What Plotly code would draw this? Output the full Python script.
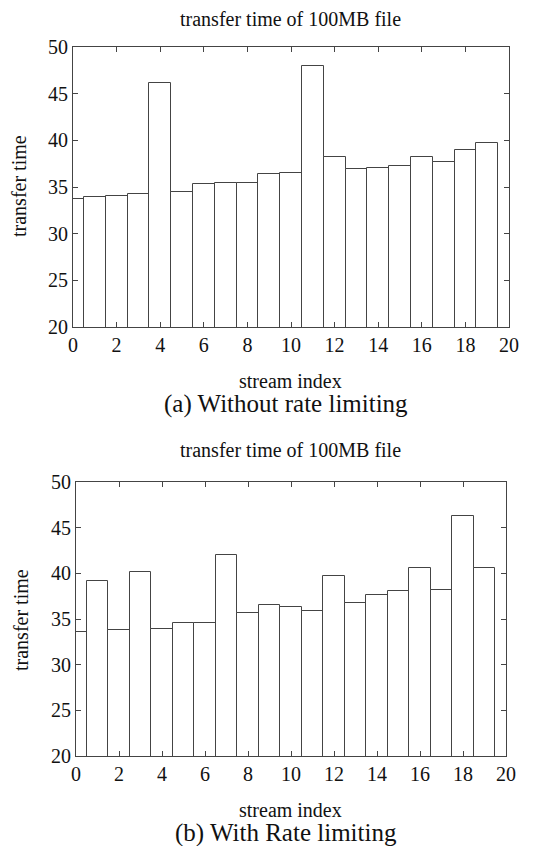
import plotly.graph_objects as go

stream_index = list(range(20))
time_no_limit = [33.75, 33.9, 34.07, 34.2, 46.1, 34.5, 35.3, 35.4, 35.46, 36.36,
                 36.46, 48.0, 38.25, 36.96, 37.07, 37.29, 38.25, 37.64, 38.93, 39.68]
time_limit = [33.54, 39.2, 33.82, 40.15, 33.93, 34.57, 34.6, 42.0, 35.7, 36.57,
              36.28, 35.9, 39.7, 36.8, 37.66, 38.1, 40.55, 38.2, 46.3, 40.58]
x_ticks = list(range(0, 21, 2))
y_ticks = list(range(20, 51, 5))

# page body has an 8px margin: the figure starts at (8, 8) in the window
OFF = 8
W, H = 553, 846
FONT = "Liberation Serif"
LINE = "#444444"

def px_x(p):
    return (p - OFF) / W

def px_y(p):
    return 1 - (p - OFF) / H

fig = go.Figure()
fig.add_trace(go.Bar(x=stream_index, y=time_no_limit, width=1,
                     marker=dict(color="white", line=dict(color=LINE, width=1)),
                     xaxis="x", yaxis="y", showlegend=False))
fig.add_trace(go.Bar(x=stream_index, y=time_limit, width=1,
                     marker=dict(color="white", line=dict(color=LINE, width=1)),
                     xaxis="x2", yaxis="y2", showlegend=False))

axis_common = dict(showgrid=False, zeroline=False, showline=True, linecolor=LINE,
                   linewidth=1, mirror="ticks", ticks="inside", ticklen=5,
                   tickcolor=LINE, automargin=False,
                   tickfont=dict(family=FONT, size=20, color="#111"))

fig.update_layout(
    template="none",
    width=W, height=H, margin=dict(l=0, r=0, t=0, b=0, pad=0),
    paper_bgcolor="white", plot_bgcolor="white", bargap=0,
    xaxis=dict(domain=[px_x(73), px_x(509)], range=[0, 20], tickvals=x_ticks,
               anchor="y", **axis_common),
    yaxis=dict(domain=[px_y(327), px_y(47)], range=[20, 50], tickvals=y_ticks,
               anchor="x", **axis_common),
    xaxis2=dict(domain=[px_x(76), px_x(506)], range=[0, 20], tickvals=x_ticks,
                anchor="y2", **axis_common),
    yaxis2=dict(domain=[px_y(756), px_y(482)], range=[20, 50], tickvals=y_ticks,
                anchor="x2", **axis_common),
)

def ann(text, x, y, size, angle=0):
    fig.add_annotation(text=text, x=px_x(x), y=px_y(y), xref="paper", yref="paper",
                       showarrow=False, textangle=angle,
                       font=dict(family=FONT, size=size, color="#111"),
                       xanchor="center", yanchor="middle")

ann("transfer time of 100MB file", 290, 19, 20)
ann("transfer time", 19, 186, 20, -90)
ann("stream index", 290, 381, 20)
ann("(a) Without rate limiting", 286, 404, 25)

ann("transfer time of 100MB file", 290, 450, 20)
ann("transfer time", 21, 620, 20, -90)
ann("stream index", 290, 810, 20)
ann("(b) With Rate limiting", 286, 833, 25)

fig.write_html("out.html")
